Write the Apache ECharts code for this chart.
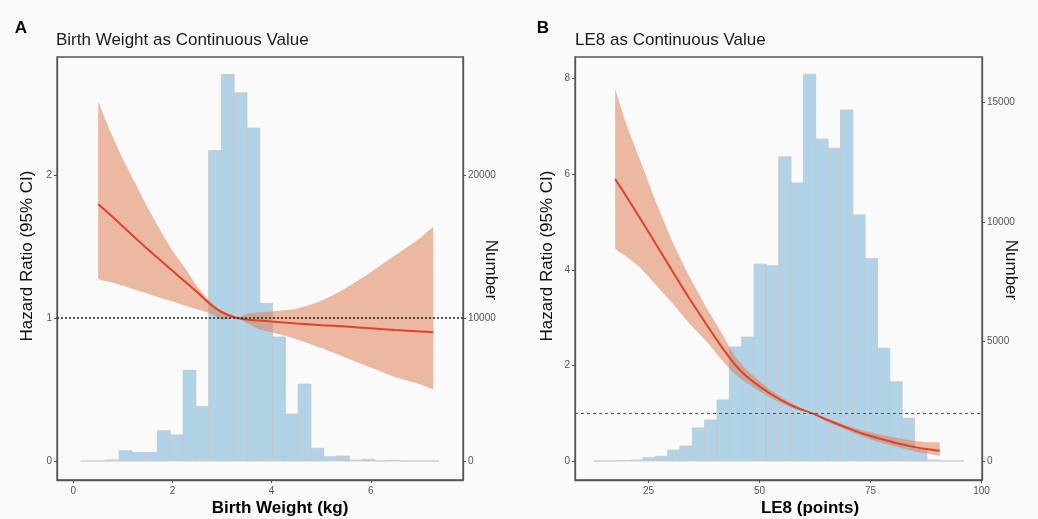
<!DOCTYPE html>
<html><head><meta charset="utf-8">
<script src="https://cdn.jsdelivr.net/npm/echarts@6/dist/echarts.min.js"></script>
<style>html,body{margin:0;padding:0;background:#fafafa}#c{width:1038px;height:519px}</style>
</head><body><div id="c"></div>
<script>
// ---------- Panel A: Birth weight ----------
const bwBinEdges = [0.149, 0.407, 0.665, 0.923, 1.181, 1.439, 1.697, 1.955, 2.213, 2.471, 2.729, 2.987, 3.245, 3.503, 3.761, 4.019, 4.277, 4.535, 4.793, 5.051, 5.309, 5.567, 5.825, 6.083, 6.341, 6.599, 6.857, 7.115, 7.373];
const bwCounts = [0, 0, 70, 720, 600, 600, 2120, 1818, 6338, 3821, 21700, 27030, 25750, 23280, 11020, 8670, 3285, 5380, 888, 300, 350, 60, 120, 0, 50, 0, 0, 0];
const bwX =     [0.5, 0.75, 1.0, 1.25, 1.5, 1.75, 2.0, 2.25, 2.5, 2.75, 3.0, 3.3, 3.5, 3.75, 4.0, 4.5, 5.0, 5.5, 6.0, 6.5, 7.0, 7.26];
const bwHR =    [1.795, 1.72, 1.64, 1.56, 1.48, 1.405, 1.33, 1.255, 1.18, 1.10, 1.04, 1.00, 0.99, 0.982, 0.975, 0.962, 0.950, 0.940, 0.928, 0.916, 0.906, 0.900];
const bwUpper = [2.51, 2.30, 2.11, 1.94, 1.77, 1.615, 1.47, 1.35, 1.22, 1.12, 1.05, 1.00, 1.03, 1.04, 1.046, 1.065, 1.12, 1.21, 1.32, 1.44, 1.56, 1.63];
const bwLower = [1.28, 1.252, 1.225, 1.197, 1.17, 1.142, 1.115, 1.087, 1.06, 1.035, 0.99, 1.00, 0.965, 0.92, 0.90, 0.852, 0.79, 0.722, 0.653, 0.585, 0.535, 0.50];
const bwXTicks = [0, 2, 4, 6];
const bwHRTicks = [0, 1, 2];
const bwNTicks = [0, 10000, 20000];

// ---------- Panel B: LE8 ----------
const leBinEdges = [12.63, 15.41, 18.19, 20.97, 23.75, 26.53, 29.31, 32.09, 34.87, 37.65, 40.43, 43.21, 45.99, 48.77, 51.55, 54.33, 57.11, 59.89, 62.67, 65.45, 68.23, 71.01, 73.79, 76.57, 79.35, 82.13, 84.91, 87.69, 90.47, 93.25, 96.03];
const leCounts = [0, 0, 20, 40, 138, 195, 460, 628, 1382, 1717, 2555, 4775, 5190, 8236, 8167, 12730, 11630, 16190, 13470, 13090, 14690, 10300, 8470, 4720, 3320, 1790, 500, 40, 0, 0];
const leX =     [17.5, 20, 23.1, 27, 30.6, 34, 38.1, 41, 44.1, 47, 51.6, 55, 58, 61.75, 65, 69, 73, 77, 81, 85, 88, 90.6];
const leHR =    [5.90, 5.54, 5.08, 4.49, 3.94, 3.43, 2.85, 2.45, 2.06, 1.78, 1.46, 1.27, 1.13, 1.00, 0.87, 0.72, 0.58, 0.47, 0.37, 0.29, 0.245, 0.216];
const leUpper = [7.78, 7.05, 6.30, 5.35, 4.55, 3.90, 3.20, 2.75, 2.25, 1.92, 1.55, 1.33, 1.17, 1.00, 0.90, 0.76, 0.65, 0.56, 0.48, 0.42, 0.39, 0.38];
const leLower = [4.46, 4.28, 4.05, 3.65, 3.28, 2.90, 2.50, 2.17, 1.85, 1.64, 1.37, 1.21, 1.09, 1.00, 0.83, 0.67, 0.52, 0.39, 0.29, 0.20, 0.15, 0.105];
const leXTicks = [25, 50, 75, 100];
const leHRTicks = [0, 2, 4, 6, 8];
const leNTicks = [0, 5000, 10000, 15000];

const FONT = '"Liberation Sans", Arial, sans-serif';
const AX = '#555';
const BAR_FILL = '#b0d3e7';
const RIB = 'rgba(220,124,80,0.52)';
const LINE = '#e2402a';

function histItem(params, api) {
  const x0 = api.value(0), x1 = api.value(1), c = api.value(2);
  const p0 = api.coord([x0, c]), p1 = api.coord([x1, 0]);
  return {type: 'rect', shape: {x: p0[0], y: p0[1], width: p1[0] - p0[0], height: p1[1] - p0[1]},
    style: {fill: c > 0 ? BAR_FILL : 'none', stroke: '#c6c6c6', lineWidth: 0.8}};
}
function ribbonItem(xs, lo, hi) {
  return function (params, api) {
    if (params.dataIndex !== 0) return null;
    const pts = [];
    for (let i = 0; i < xs.length; i++) pts.push(api.coord([xs[i], hi[i]]));
    for (let i = xs.length - 1; i >= 0; i--) pts.push(api.coord([xs[i], lo[i]]));
    let mnx = Infinity, mny = Infinity, mxx = -Infinity, mxy = -Infinity;
    pts.forEach(p => { mnx = Math.min(mnx, p[0]); mny = Math.min(mny, p[1]); mxx = Math.max(mxx, p[0]); mxy = Math.max(mxy, p[1]); });
    return {type: 'polygon', shape: {points: pts, smooth: 0.2, smoothConstraint: [[mnx, mny], [mxx, mxy]]}, style: {fill: RIB}};
  };
}
function xAxisCfg(grid, min, max, ticks) {
  return {type: 'value', gridIndex: grid, min: min, max: max, position: 'bottom',
    axisLine: {show: true, onZero: false, lineStyle: {color: AX, width: 1.3}},
    axisTick: {show: true, length: 3, customValues: ticks, lineStyle: {color: AX}},
    axisLabel: {customValues: ticks, margin: 6, color: '#555', fontSize: 10, fontFamily: FONT, formatter: v => String(v)},
    splitLine: {show: false}};
}
function yAxisCfg(grid, pos, min, max, ticks) {
  return {type: 'value', gridIndex: grid, min: min, max: max, position: pos,
    axisLine: {show: true, onZero: false, lineStyle: {color: AX, width: 1.3}},
    axisTick: {show: true, length: 3, customValues: ticks, lineStyle: {color: AX}},
    axisLabel: {customValues: ticks, margin: 5, color: '#555', fontSize: 10, fontFamily: FONT, formatter: v => String(v)},
    splitLine: {show: false}};
}
function txt(x, y, s, size, opts) {
  return Object.assign({type: 'text', x: x, y: y, silent: true,
    style: Object.assign({text: s, fontSize: size, fontFamily: FONT, fill: '#111', align: 'center', verticalAlign: 'middle'}, (opts && opts.style) || {})},
    opts && opts.rotation !== undefined ? {rotation: opts.rotation} : {});
}

const chart = echarts.init(document.getElementById('c'), null, {renderer: 'canvas'});
chart.setOption({
  backgroundColor: '#fafafa',
  animation: false,
  grid: [
    {left: 57, top: 57, width: 406, height: 423, show: true, borderColor: AX, borderWidth: 1.3, backgroundColor: '#fafafa'},
    {left: 575, top: 57, width: 407, height: 423, show: true, borderColor: AX, borderWidth: 1.3, backgroundColor: '#fafafa'}
  ],
  xAxis: [
    xAxisCfg(0, -0.33, 7.86, bwXTicks),
    xAxisCfg(1, 8.46, 100.1, leXTicks)
  ],
  yAxis: [
    yAxisCfg(0, 'left', -0.133, 2.825, bwHRTicks),
    yAxisCfg(0, 'right', -1330, 28250, bwNTicks),
    yAxisCfg(1, 'left', -0.398, 8.454, leHRTicks),
    yAxisCfg(1, 'right', -796, 16908, leNTicks)
  ],
  series: [
    {type: 'custom', xAxisIndex: 0, yAxisIndex: 1, z: 1, renderItem: histItem, encode: {x: [0, 1], y: 2},
      data: bwCounts.map((c, i) => [bwBinEdges[i], bwBinEdges[i + 1], c])},
    {type: 'custom', xAxisIndex: 0, yAxisIndex: 0, z: 2, renderItem: ribbonItem(bwX, bwLower, bwUpper), encode: {x: 0, y: [1, 2]},
      data: bwX.map((x, i) => [x, bwLower[i], bwUpper[i]])},
    {type: 'line', xAxisIndex: 0, yAxisIndex: 0, z: 3, showSymbol: false, smooth: 0.25,
      lineStyle: {color: LINE, width: 2}, data: bwX.map((x, i) => [x, bwHR[i]]),
      markLine: {silent: true, symbol: 'none', label: {show: false}, lineStyle: {color: '#222', width: 1.5, type: [2, 2]}, data: [{yAxis: 1}]}},
    {type: 'custom', xAxisIndex: 1, yAxisIndex: 3, z: 1, renderItem: histItem, encode: {x: [0, 1], y: 2},
      data: leCounts.map((c, i) => [leBinEdges[i], leBinEdges[i + 1], c])},
    {type: 'custom', xAxisIndex: 1, yAxisIndex: 2, z: 2, renderItem: ribbonItem(leX, leLower, leUpper), encode: {x: 0, y: [1, 2]},
      data: leX.map((x, i) => [x, leLower[i], leUpper[i]])},
    {type: 'line', xAxisIndex: 1, yAxisIndex: 2, z: 3, showSymbol: false, smooth: 0.25,
      lineStyle: {color: LINE, width: 2}, data: leX.map((x, i) => [x, leHR[i]]),
      markLine: {silent: true, symbol: 'none', label: {show: false}, lineStyle: {color: '#444', width: 0.9, type: [3, 3]}, data: [{yAxis: 1}]}}
  ],
  graphic: [
    txt(21, 28, 'A', 17, {style: {fontWeight: 'bold', fill: '#000'}}),
    txt(56, 40, 'Birth Weight as Continuous Value', 17, {style: {align: 'left', fill: '#1a1a1a'}}),
    txt(543, 28, 'B', 17, {style: {fontWeight: 'bold', fill: '#000'}}),
    txt(575, 40, 'LE8 as Continuous Value', 17, {style: {align: 'left', fill: '#1a1a1a'}}),
    txt(27, 256, 'Hazard Ratio (95% CI)', 17, {rotation: Math.PI / 2}),
    txt(547, 256, 'Hazard Ratio (95% CI)', 17, {rotation: Math.PI / 2}),
    txt(491, 270, 'Number', 17, {rotation: -Math.PI / 2}),
    txt(1011, 270, 'Number', 17, {rotation: -Math.PI / 2}),
    txt(280, 508, 'Birth Weight (kg)', 17, {style: {fontWeight: 'bold', fill: '#000'}}),
    txt(810, 508, 'LE8 (points)', 17, {style: {fontWeight: 'bold', fill: '#000'}})
  ]
});
</script>
</body></html>
